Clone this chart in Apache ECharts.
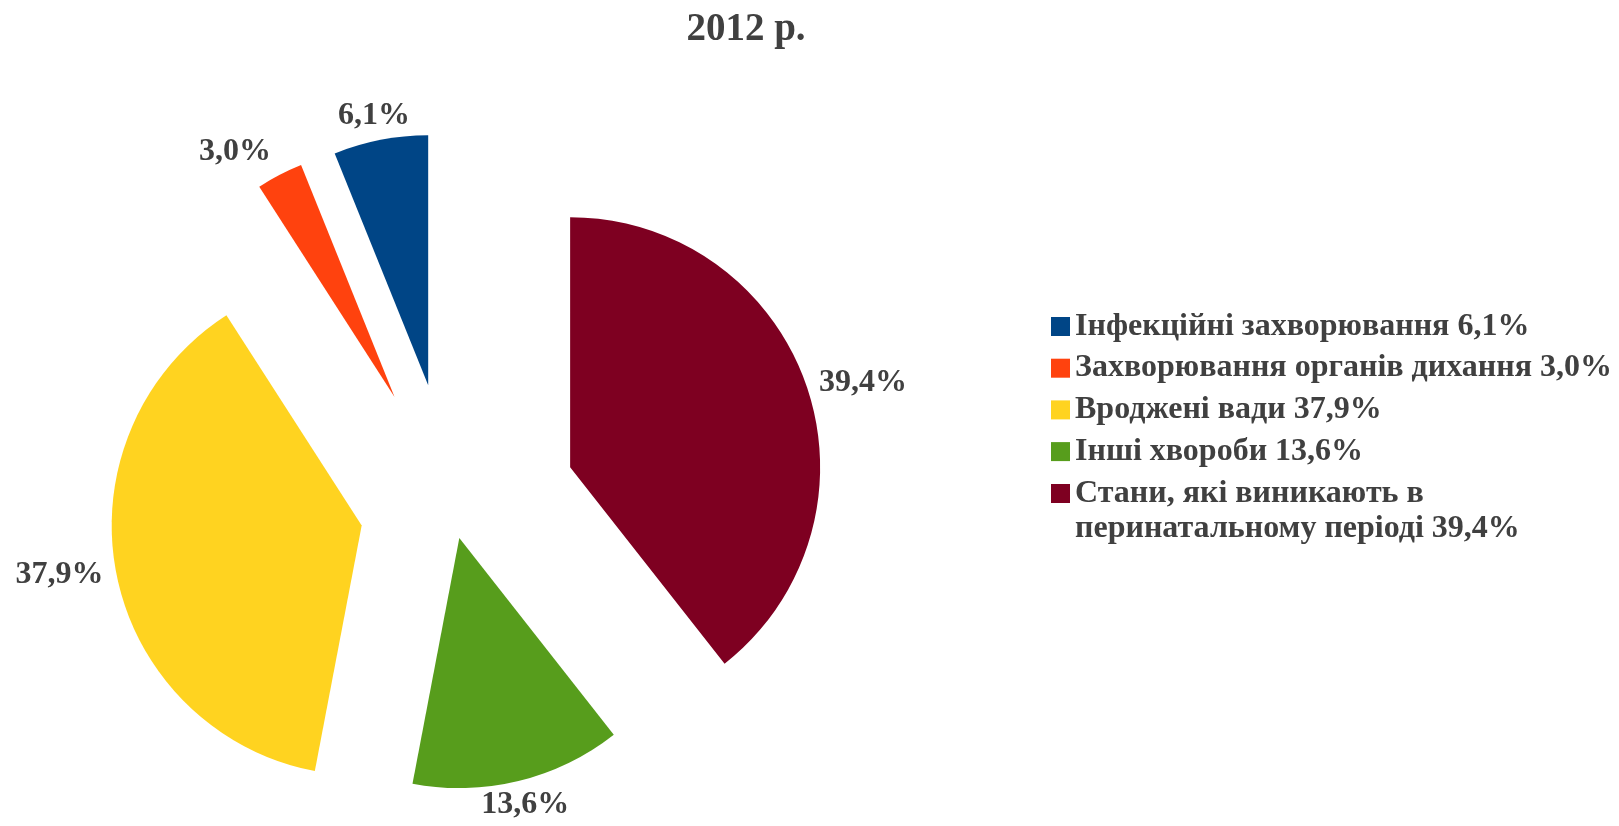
<!DOCTYPE html>
<html><head><meta charset="utf-8">
<script src="https://cdn.jsdelivr.net/npm/echarts@6/dist/echarts.min.js"></script>
<style>html,body{margin:0;padding:0;background:#fff}#main{width:1619px;height:826px}</style>
</head><body><div id="main"></div>
<script>
// ---- data ----
const chartTitle = '2012 р.';
const categories = ['Інфекційні захворювання', 'Захворювання органів дихання', 'Вроджені вади', 'Інші хвороби', 'Стани, які виникають в перинатальному періоді'];
const values = [6.1, 3.0, 37.9, 13.6, 39.4];
const valueLabels = ['6,1%', '3,0%', '37,9%', '13,6%', '39,4%'];

// ---- style ----
const COLORS = ['#004586', '#ff420e', '#ffd320', '#579d1c', '#7e0021'];
const EXPLODE = [125, 125, 92, 31, 125];
const CENTER = [452, 508];
const RADIUS = 250;
const LABEL_GAP = 8;
const FONT = '"Liberation Serif","Times New Roman",serif';
const TEXT = '#404040';

const chart = echarts.init(document.getElementById('main'), null, {renderer: 'canvas'});

const total = values.reduce((a, b) => a + b, 0);
function midDir(idx) {
  let before = 0;
  for (let i = 0; i < idx; i++) before += values[i];
  const mid = (before + values[idx] / 2) / total * 2 * Math.PI; // counter-clockwise from top
  return [-Math.sin(mid), -Math.cos(mid)];
}

function makeSeries(target) {
  return {
    type: 'pie',
    center: CENTER,
    radius: RADIUS,
    startAngle: 90,
    clockwise: false,
    selectedMode: 'multiple',
    selectedOffset: EXPLODE[target],
    avoidLabelOverlap: false,
    silent: true,
    animation: false,
    itemStyle: {borderWidth: 0},
    emphasis: {disabled: true},
    label: {
      show: false,
      position: 'outside',
      fontFamily: FONT,
      fontWeight: 'bold',
      fontSize: 32,
      color: TEXT,
      formatter: p => valueLabels[p.dataIndex]
    },
    labelLine: {show: false, length: LABEL_GAP, length2: 0},
    labelLayout: p => {
      if (p.dataIndex !== target) return {};
      const d = midDir(target);
      const dist = RADIUS + EXPLODE[target] + LABEL_GAP;
      return {
        x: CENTER[0] + d[0] * dist,
        y: CENTER[1] + d[1] * dist,
        align: d[0] > 0.4 ? 'left' : (d[0] < -0.4 ? 'right' : 'center'),
        verticalAlign: d[1] < -0.4 ? 'bottom' : (d[1] > 0.4 ? 'top' : 'middle')
      };
    },
    data: categories.map((name, i) => ({
      name: name,
      value: values[i],
      selected: i === target,
      itemStyle: {color: COLORS[i], opacity: i === target ? 1 : 0},
      label: {show: i === target}
    }))
  };
}

const legendCommon = {
  orient: 'vertical', left: 1051, icon: 'rect', itemWidth: 19, itemHeight: 19,
  itemGap: 8.7, padding: 0, selectedMode: false
};

chart.setOption({
  animation: false,
  backgroundColor: '#fff',
  title: {
    text: chartTitle, left: 746, top: 10, textAlign: 'center', padding: 0,
    textStyle: {fontFamily: FONT, fontWeight: 'bold', fontSize: 39, color: TEXT}
  },
  legend: [
    Object.assign({}, legendCommon, {
      top: 310,
      textStyle: {fontFamily: FONT, fontWeight: 'bold', fontSize: 32, color: TEXT, lineHeight: 33},
      data: categories.slice(0, 4).map((n, i) => ({name: n, itemStyle: {color: COLORS[i], opacity: 1}})),
      formatter: name => name + ' ' + valueLabels[categories.indexOf(name)]
    }),
    Object.assign({}, legendCommon, {
      top: 441,
      textStyle: {fontFamily: FONT, fontWeight: 'bold', fontSize: 32, color: TEXT, lineHeight: 35},
      data: [{name: categories[4], itemStyle: {color: COLORS[4], opacity: 1}}],
      formatter: name => '\n' + name.replace(' перинатальному', '\nперинатальному') + ' ' + valueLabels[4]
    })
  ],
  series: categories.map((c, i) => makeSeries(i))
});
</script>
</body></html>
